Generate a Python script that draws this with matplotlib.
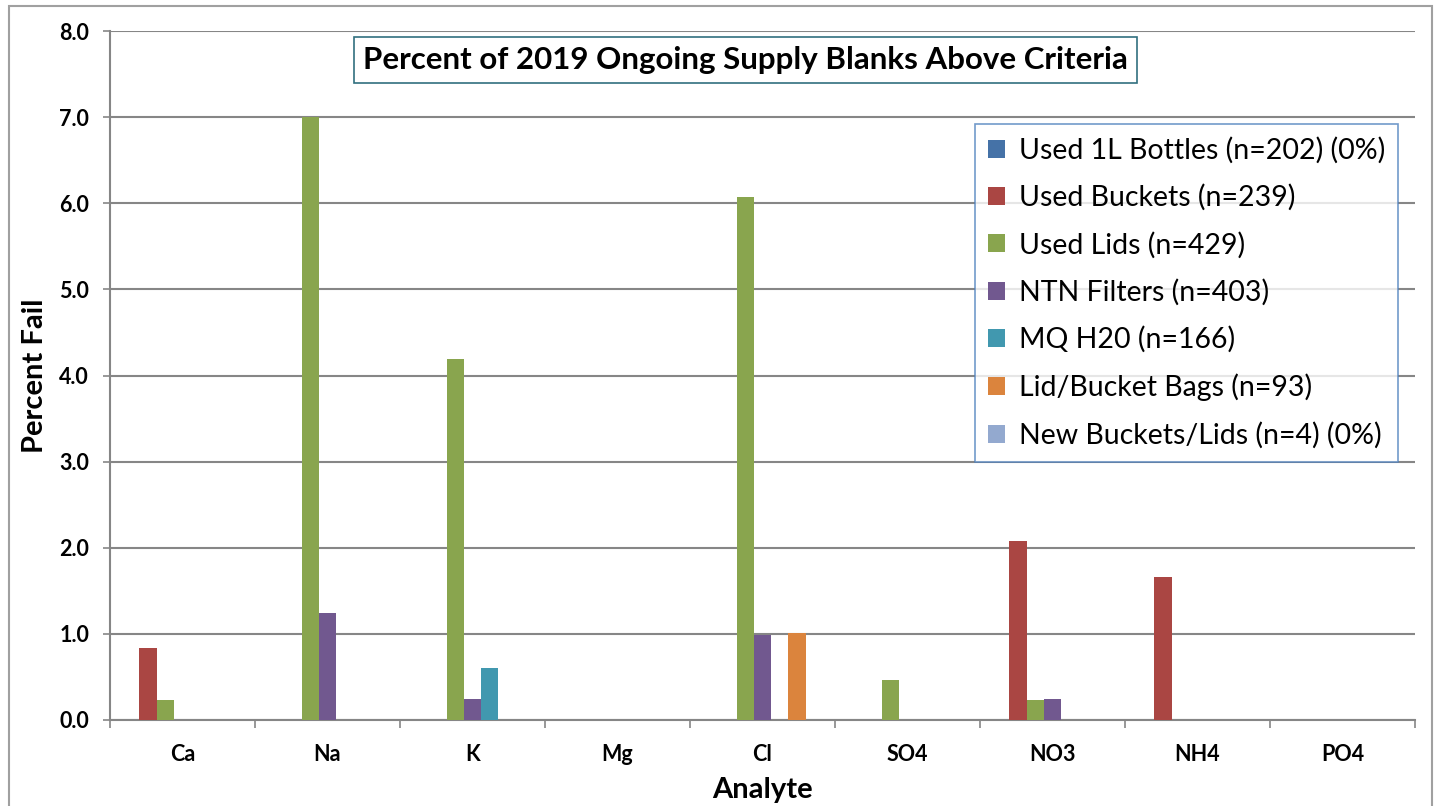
import numpy as np
import matplotlib
matplotlib.use("Agg")
import matplotlib.pyplot as plt
from matplotlib.patches import Rectangle

plt.rcParams['font.family'] = ['Lato', 'DejaVu Sans']

analytes = ["Ca", "Na", "K", "Mg", "Cl", "SO4", "NO3", "NH4", "PO4"]

series_names = [
    "Used 1L Bottles (n=202) (0%)",
    "Used Buckets (n=239)",
    "Used Lids (n=429)",
    "NTN Filters (n=403)",
    "MQ H20 (n=166)",
    "Lid/Bucket Bags (n=93)",
    "New Buckets/Lids (n=4) (0%)",
]

used_bottles = [0, 0, 0, 0, 0, 0, 0, 0, 0]
used_buckets = [0.84, 0, 0, 0, 0, 0, 2.08, 1.66, 0]
used_lids = [0.23, 7.00, 4.19, 0, 6.07, 0.46, 0.23, 0, 0]
ntn_filters = [0, 1.24, 0.24, 0, 0.99, 0, 0.24, 0, 0]
mq_h20 = [0, 0, 0.60, 0, 0, 0, 0, 0, 0]
bucket_bags = [0, 0, 0, 0, 1.01, 0, 0, 0, 0]
new_buckets = [0, 0, 0, 0, 0, 0, 0, 0, 0]

colors = ["#4572A7", "#AA4643", "#89A54E", "#71588F", "#4198AF", "#DB843D", "#93A9CF"]

all_series = [used_bottles, used_buckets, used_lids, ntn_filters,
              mq_h20, bucket_bags, new_buckets]

fig = plt.figure(figsize=(14.41, 8.06), dpi=100)
ax = fig.add_axes([0.0763, 0.1067, 0.9057, 0.8548])

x = np.arange(len(analytes))
w = 0.119
for i, (vals, name, c) in enumerate(zip(all_series, series_names, colors)):
    ax.bar(x + (i - 3) * w, vals, width=w, color=c, label=name, zorder=3)

ax.set_xlim(-0.5, len(analytes) - 0.5)
ax.set_ylim(0, 8)
ax.set_yticks(np.arange(0, 8.1, 1.0))
ax.set_yticklabels([f"{v:.1f}" for v in np.arange(0, 8.1, 1.0)],
                   fontsize=15.5, fontweight="bold")
ax.set_xticks(x)
ax.set_xticklabels(analytes, fontsize=15.5, fontweight="bold")
ax.set_xticks(np.arange(-0.5, len(analytes)), minor=True)
ax.tick_params(axis="x", which="major", length=0, pad=17)
ax.tick_params(axis="x", which="minor", length=6, color="#868686", width=1.2)
ax.tick_params(axis="y", length=5, color="#868686", width=1.2, pad=10)

ax.grid(axis="y", color="#868686", linewidth=1.5, zorder=0)
for side in ["top", "right"]:
    ax.spines[side].set_visible(False)
for side in ["left", "bottom"]:
    ax.spines[side].set_color("#868686")
    ax.spines[side].set_linewidth(1.5)

ax.set_ylabel("Percent Fail", fontsize=21, fontweight="bold", labelpad=8)
ax.set_xlabel("Analyte", fontsize=21, fontweight="bold", labelpad=9)

ax.text(0.487, 0.958, "Percent of 2019 Ongoing Supply Blanks Above Criteria",
        transform=ax.transAxes, ha="center", va="center",
        fontsize=22.5, fontweight="bold",
        bbox=dict(boxstyle="square,pad=0.28", facecolor="white",
                  edgecolor="#31707F", linewidth=1.2))

leg = ax.legend(loc="upper right", bbox_to_anchor=(0.987, 0.865),
                fontsize=20.5, frameon=True, fancybox=False,
                handlelength=0.6, handleheight=0.6, handletextpad=0.5,
                labelspacing=0.72, borderpad=0.45, borderaxespad=0)
leg.get_frame().set_edgecolor("#4F81BD")
leg.get_frame().set_linewidth(1.2)

fig.patches.append(Rectangle((0.006, -0.01), 0.988, 1.0025, transform=fig.transFigure,
                             fill=False, edgecolor="#A0A0A0", linewidth=1.5))

fig.savefig("out.png", dpi=100)
